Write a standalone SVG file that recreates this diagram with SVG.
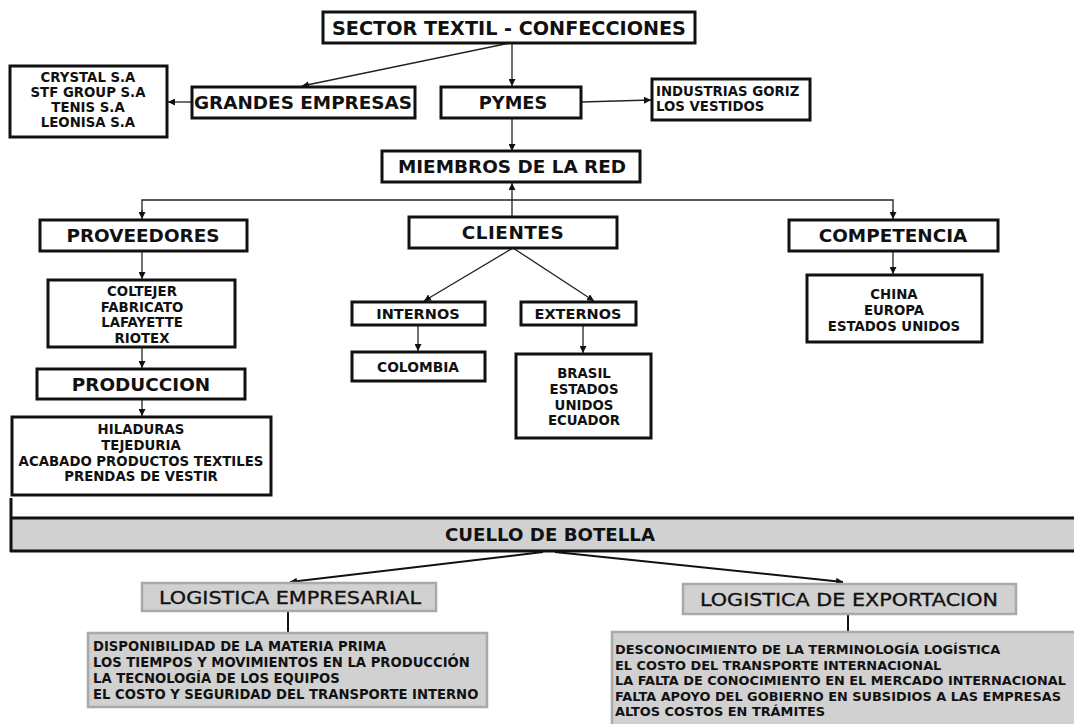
<svg xmlns="http://www.w3.org/2000/svg" width="1074" height="724" viewBox="0 0 1074 724">
<defs>
<marker id="ah" markerWidth="7" markerHeight="7" refX="7" refY="3.5" orient="auto" markerUnits="userSpaceOnUse">
<path d="M0,0 L7,3.5 L0,7 z" fill="#111"/>
</marker>
<style>
.b{fill:#fff;stroke:#111;stroke-width:3}
.g{fill:#d2d1d2;stroke:#a9a9a9;stroke-width:2.5}
.t{font-family:"DejaVu Sans",Verdana,sans-serif;font-weight:bold;fill:#111}
.h{font-size:18.4px}
.s{font-size:13.3px}
.m{font-size:14.5px}
.c{text-anchor:middle}
.n{font-weight:normal;font-size:18.5px;stroke:#111;stroke-width:0.35}
.l{fill:none;stroke:#222;stroke-width:1.3}
.lt{fill:none;stroke:#111;stroke-width:2}
</style>
</defs>
<rect width="1074" height="724" fill="#fff"/>

<g id="connectors">
<line class="l" x1="510" y1="43" x2="302" y2="86" marker-end="url(#ah)"/>
<line class="l" x1="512" y1="43" x2="512" y2="86" marker-end="url(#ah)"/>
<line class="l" x1="192" y1="102" x2="168" y2="102" marker-end="url(#ah)"/>
<line class="l" x1="581" y1="102" x2="651" y2="100" marker-end="url(#ah)"/>
<line class="l" x1="512" y1="118" x2="512" y2="151" marker-end="url(#ah)"/>
<line class="l" x1="512" y1="217" x2="512" y2="183" marker-end="url(#ah)"/>
<polyline class="l" points="142,212 142,200 893,200 893,212"/>
<line class="l" x1="142" y1="210" x2="142" y2="219" marker-end="url(#ah)"/>
<line class="l" x1="893" y1="210" x2="893" y2="219" marker-end="url(#ah)"/>
<line class="l" x1="142" y1="251" x2="142" y2="279" marker-end="url(#ah)"/>
<line class="l" x1="142" y1="347" x2="142" y2="368" marker-end="url(#ah)"/>
<line class="l" x1="142" y1="399" x2="142" y2="416" marker-end="url(#ah)"/>
<line class="l" x1="513" y1="248" x2="424" y2="301" marker-end="url(#ah)"/>
<line class="l" x1="513" y1="248" x2="594" y2="301" marker-end="url(#ah)"/>
<line class="l" x1="418" y1="325" x2="418" y2="351" marker-end="url(#ah)"/>
<line class="l" x1="583" y1="325" x2="583" y2="353" marker-end="url(#ah)"/>
<line class="l" x1="893" y1="251" x2="893" y2="274" marker-end="url(#ah)"/>
<line class="lt" x1="543" y1="552" x2="290" y2="582" marker-end="url(#ah)"/>
<line class="lt" x1="555" y1="552" x2="843" y2="582" marker-end="url(#ah)"/>
<line class="lt" x1="288" y1="611" x2="288" y2="632"/>
<line class="lt" x1="848" y1="614" x2="848" y2="632"/>
</g>

<g id="sector"><rect class="b" x="323" y="12" width="372" height="31"/><text class="t c" style="font-size:19.2px" x="509" y="34.5">SECTOR TEXTIL - CONFECCIONES</text></g>
<g id="crystal"><rect class="b" x="10" y="66" width="157" height="71"/>
<text class="t s c"><tspan x="88" y="82">CRYSTAL S.A</tspan><tspan x="88" y="96.5">STF GROUP S.A</tspan><tspan x="88" y="111.5">TENIS S.A</tspan><tspan x="88" y="126.5">LEONISA S.A</tspan></text></g>
<g id="grandes"><rect class="b" x="192" y="87" width="223" height="31"/><text class="t h c" x="303" y="109">GRANDES EMPRESAS</text></g>
<g id="pymes"><rect class="b" x="441" y="87" width="140" height="31"/><text class="t c" style="font-size:17.8px" x="513" y="109">PYMES</text></g>
<g id="industrias"><rect class="b" x="652" y="79" width="158" height="41"/>
<text class="t s"><tspan x="656" y="96">INDUSTRIAS GORIZ</tspan><tspan x="656" y="111">LOS VESTIDOS</tspan></text></g>
<g id="miembros"><rect class="b" x="382" y="151" width="258" height="31"/><text class="t h c" x="512" y="173">MIEMBROS DE LA RED</text></g>
<g id="proveedores"><rect class="b" x="40" y="220" width="207" height="31"/><text class="t h c" x="143" y="242">PROVEEDORES</text></g>
<g id="clientes"><rect class="b" x="409" y="217" width="208" height="31"/><text class="t h c" style="letter-spacing:0.5px" x="513" y="239">CLIENTES</text></g>
<g id="competencia"><rect class="b" x="789" y="220" width="209" height="31"/><text class="t h c" x="893" y="242">COMPETENCIA</text></g>
<g id="coltejer"><rect class="b" x="48" y="280" width="187" height="67"/>
<text class="t s c"><tspan x="142" y="296">COLTEJER</tspan><tspan x="142" y="311.5">FABRICATO</tspan><tspan x="142" y="327">LAFAYETTE</tspan><tspan x="142" y="342.5">RIOTEX</tspan></text></g>
<g id="produccion"><rect class="b" x="37" y="369" width="208" height="30"/><text class="t h c" x="141" y="391">PRODUCCION</text></g>
<g id="hiladuras"><rect class="b" x="12" y="417" width="259" height="78"/>
<text class="t s c"><tspan x="141" y="434">HILADURAS</tspan><tspan x="141" y="450">TEJEDURIA</tspan><tspan x="141" y="465.5">ACABADO PRODUCTOS TEXTILES</tspan><tspan x="141" y="481">PRENDAS DE VESTIR</tspan></text></g>
<g id="internos"><rect class="b" x="352" y="302" width="133" height="23"/><text class="t m c" x="418" y="319">INTERNOS</text></g>
<g id="externos"><rect class="b" x="521" y="302" width="115" height="23"/><text class="t m c" x="578" y="319">EXTERNOS</text></g>
<g id="colombia"><rect class="b" x="352" y="352" width="133" height="29"/><text class="t c" style="font-size:13.8px" x="418" y="372">COLOMBIA</text></g>
<g id="brasil"><rect class="b" x="516" y="354" width="135" height="84"/>
<text class="t s c"><tspan x="584" y="378">BRASIL</tspan><tspan x="584" y="394">ESTADOS</tspan><tspan x="584" y="409.5">UNIDOS</tspan><tspan x="584" y="425">ECUADOR</tspan></text></g>
<g id="china"><rect class="b" x="807" y="275" width="175" height="67"/>
<text class="t s c"><tspan x="894" y="299">CHINA</tspan><tspan x="894" y="315">EUROPA</tspan><tspan x="894" y="330.5">ESTADOS UNIDOS</tspan></text></g>

<g id="cuello">
<rect x="10" y="518" width="1070" height="33" fill="#d2d1d2"/>
<line x1="10" y1="518" x2="1074" y2="518" stroke="#111" stroke-width="3"/>
<line x1="10" y1="551" x2="1074" y2="551" stroke="#111" stroke-width="3"/>
<line x1="11" y1="498" x2="11" y2="552" stroke="#111" stroke-width="3"/>
<text class="t c" style="font-size:18px" x="550" y="541" textLength="210" lengthAdjust="spacingAndGlyphs">CUELLO DE BOTELLA</text>
</g>
<g id="log-emp"><rect class="g" x="142" y="583" width="294" height="28"/><text class="t c n" x="290" y="604" textLength="262" lengthAdjust="spacingAndGlyphs">LOGISTICA EMPRESARIAL</text></g>
<g id="log-emp-list"><rect class="g" x="88" y="633" width="399" height="74"/>
<text class="t" style="font-size:13.2px"><tspan x="93" y="651">DISPONIBILIDAD DE LA MATERIA PRIMA</tspan><tspan x="93" y="667">LOS TIEMPOS Y MOVIMIENTOS EN LA PRODUCCIÓN</tspan><tspan x="93" y="683">LA TECNOLOGÍA DE LOS EQUIPOS</tspan><tspan x="93" y="698.5">EL COSTO Y SEGURIDAD DEL TRANSPORTE INTERNO</tspan></text></g>
<g id="log-exp"><rect class="g" x="683" y="584" width="333" height="30"/><text class="t c n" x="849" y="606" textLength="298" lengthAdjust="spacingAndGlyphs">LOGISTICA DE EXPORTACION</text></g>
<g id="log-exp-list"><rect class="g" x="612" y="632" width="480" height="100"/>
<text class="t" style="font-size:12.9px"><tspan x="615" y="654">DESCONOCIMIENTO DE LA TERMINOLOGÍA LOGÍSTICA</tspan><tspan x="615" y="669.5">EL COSTO DEL TRANSPORTE INTERNACIONAL</tspan><tspan x="615" y="685">LA FALTA DE CONOCIMIENTO EN EL MERCADO INTERNACIONAL</tspan><tspan x="615" y="700.5">FALTA APOYO DEL GOBIERNO EN SUBSIDIOS A LAS EMPRESAS</tspan><tspan x="615" y="716">ALTOS COSTOS EN TRÁMITES</tspan></text></g>
</svg>
